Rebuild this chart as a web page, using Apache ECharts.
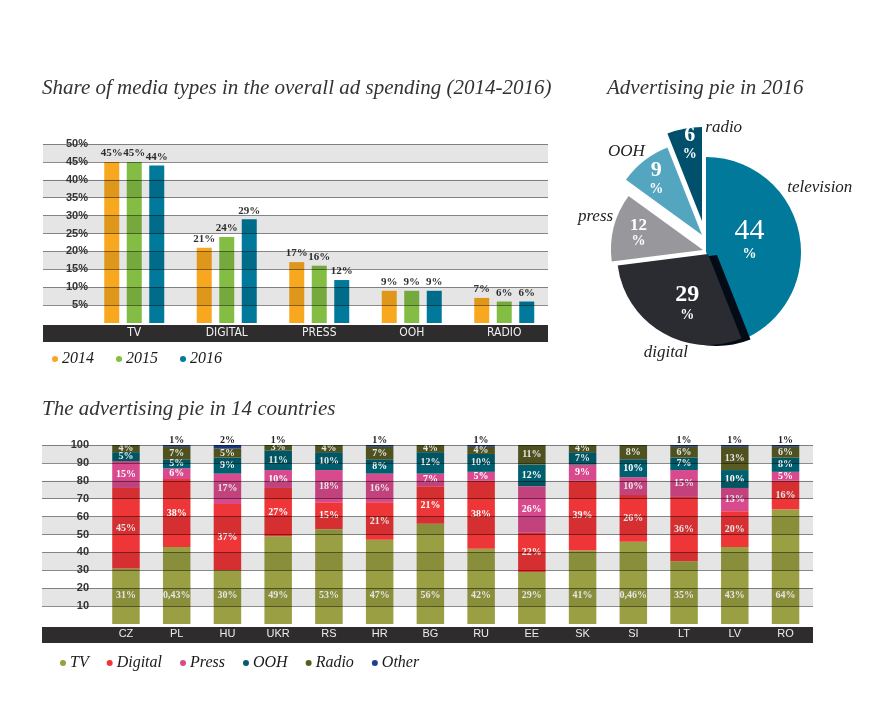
<!DOCTYPE html>
<html><head><meta charset="utf-8">
<script src="https://cdn.jsdelivr.net/npm/echarts@6/dist/echarts.min.js"></script>
<style>html,body{margin:0;padding:0;background:#fff;}#c{width:875px;height:720px;}</style>
</head><body><div id="c"></div>
<script>
// ---------- data ----------
const mediaCats = ['TV', 'DIGITAL', 'PRESS', 'OOH', 'RADIO'];
const yearNames = ['2014', '2015', '2016'];
const share2014 = [45, 21, 17, 9, 7];
const share2015 = [45, 24, 16, 9, 6];
const share2016 = [44, 29, 12, 9, 6];

const pieNames = ['television', 'digital', 'press', 'OOH', 'radio'];
const pieValues = [44, 29, 12, 9, 6];

const countries = ['CZ', 'PL', 'HU', 'UKR', 'RS', 'HR', 'BG', 'RU', 'EE', 'SK', 'SI', 'LT', 'LV', 'RO'];
const countrySeriesNames = ['TV', 'Digital', 'Press', 'OOH', 'Radio', 'Other'];
const tvShare      = [31, 43, 30, 49, 53, 47, 56, 42, 29, 41, 46, 35, 43, 64];
const digitalShare = [45, 38, 37, 27, 15, 21, 21, 38, 22, 39, 26, 36, 20, 16];
const pressShare   = [15, 6, 17, 10, 18, 16, 7, 5, 26, 9, 10, 15, 13, 5];
const oohShare     = [5, 5, 9, 11, 10, 8, 12, 10, 12, 7, 10, 7, 10, 8];
const radioShare   = [4, 7, 5, 3, 4, 7, 4, 4, 11, 4, 8, 6, 13, 6];
const otherShare   = [0, 1, 2, 1, 0, 1, 0, 1, 0, 0, 0, 1, 1, 1];
const tvLabels = ['31%', '0,43%', '30%', '49%', '53%', '47%', '56%', '42%', '29%', '41%', '0,46%', '35%', '43%', '64%'];

// ---------- styles ----------
const SERIF = "'Liberation Serif', 'Times New Roman', serif";
const SANS = "'Liberation Sans', Arial, sans-serif";
const NARROW = "'DejaVu Sans Condensed', 'Liberation Sans Narrow', 'Liberation Sans', sans-serif";
const yearColors = ['#f8a81f', '#84bd44', '#00799a'];
const countryColors = ['#999f42', '#ee3537', '#d84a8d', '#005f6f', '#585c22', '#213f8e'];
const pieColors = ['#00799a', '#2a2c32', '#98989c', '#54a6c0', '#004f6b'];
const pieGeom = [
  { c: [706, 252], r: 95 },
  { c: [708, 254], r: 91 },
  { c: [703, 250], r: 92 },
  { c: [702, 235], r: 94 },
  { c: [702, 221], r: 94 }
];
const pieNumSize = [30, 24, 17, 22, 22];
const pieNumWeight = ['normal', 'bold', 'bold', 'bold', 'bold'];
const pieLabelShift = [[-6, -4], [4, 7], [-17, -5], [-15, -18], [-3, -29]];
const pieNameShift = [[-17, -46, 'left'], [33, 14, 'right'], [4, -11, 'right'], [0, -21, 'right'], [18, -26, 'left']];

const chart = echarts.init(document.getElementById('c'));

const titleStyle = { fontFamily: SERIF, fontStyle: 'italic', fontWeight: 'normal', fontSize: 21, color: '#333' };
const legendText = { fontFamily: SERIF, fontStyle: 'italic', fontWeight: 'normal', fontSize: 16, color: '#1a1a1a', padding: [0, 0, 0, -1] };

function bandAxisY(gridIndex, max, interval, margin) {
  return {
    gridIndex, type: 'value', min: 0, max, interval, z: 5,
    axisLine: { show: false }, axisTick: { show: false },
    axisLabel: { inside: true, margin, align: 'right', formatter: v => (v ? v + (max === 50 ? '%' : '') : ''),
      fontFamily: SANS, fontWeight: 'bold', fontSize: 11, color: '#333' },
    splitLine: { show: true, showMinLine: false, lineStyle: { color: 'rgba(0,0,0,0.45)', width: 1 } },
    splitArea: { show: true, areaStyle: { color: ['rgba(0,0,0,0)', 'rgba(0,0,0,0.1)'] } }
  };
}
function bandAxisX(gridIndex, width) {
  return {
    gridIndex, type: 'value', min: 0, max: 1, z: 6, offset: 10.5,
    axisLine: { show: true, onZero: false, lineStyle: { color: '#2e2c2d', width, cap: 'butt' } },
    axisTick: { show: false }, axisLabel: { show: false }, splitLine: { show: false }
  };
}

const topSeries = [share2014, share2015, share2016].map((d, i) => ({
  name: yearNames[i], type: 'bar', xAxisIndex: 1, yAxisIndex: 1, data: d,
  barWidth: 15, barGap: '50%', z: 2,
  itemStyle: { color: yearColors[i] },
  label: { show: true, position: 'top', distance: 3, formatter: '{c}%', fontFamily: SERIF, fontWeight: 'bold', fontSize: 11, color: '#333', textBorderWidth: 0 }
}));

const countryData = [tvShare, digitalShare, pressShare, oohShare, radioShare, otherShare];
const segLabel = { show: true, fontFamily: SERIF, fontWeight: 'bold', fontSize: 10, color: '#fff', textBorderWidth: 0 };
const bottomSeries = countryData.map((d, i) => {
  let label;
  if (i === 0) label = Object.assign({}, segLabel, { position: 'insideBottom', distance: 24, formatter: p => tvLabels[p.dataIndex] });
  else if (i === 5) label = Object.assign({}, segLabel, { position: 'top', distance: 0, color: '#222', formatter: p => (p.value > 0 ? p.value + '%' : '') });
  else label = Object.assign({}, segLabel, { position: 'inside', formatter: p => (p.value > 0 ? p.value + '%' : '') });
  return {
    name: countrySeriesNames[i], type: 'bar', stack: 'countries', xAxisIndex: 3, yAxisIndex: 3,
    data: d, barWidth: 27.5, z: 2, itemStyle: { color: countryColors[i] }, label
  };
});

const pieSlices = pieNames.map((nm, i) => ({
  type: 'pie', name: 'slice-' + nm, center: pieGeom[i].c, radius: pieGeom[i].r,
  startAngle: 90, clockwise: true, silent: true, avoidLabelOverlap: false, z: 2 + i,
  data: pieNames.map((n, j) => ({
    name: n, value: pieValues[j],
    itemStyle: j === i
      ? Object.assign({ color: pieColors[i], borderWidth: 0 }, i === 1 ? { shadowColor: '#030b16', shadowOffsetX: 9, shadowOffsetY: 1, shadowBlur: 0 } : {})
      : { color: 'rgba(0,0,0,0)', borderWidth: 0 },
    label: { show: j === i }
  })),
  label: {
    position: 'inside', formatter: p => '{n|' + p.value + '}\n{p|%}',
    rich: {
      n: { fontFamily: SERIF, fontSize: pieNumSize[i], fontWeight: pieNumWeight[i], color: '#fff', lineHeight: pieNumSize[i] + 1, align: 'center' },
      p: { fontFamily: SERIF, fontSize: 14, fontWeight: 'bold', color: '#fff', lineHeight: 15, align: 'center' }
    },
    textBorderWidth: 0
  },
  labelLine: { show: false },
  labelLayout: { dx: pieLabelShift[i][0], dy: pieLabelShift[i][1] },
  emphasis: { disabled: true }
}));

const pieNamesSeries = {
  type: 'pie', name: 'pie-names', center: pieGeom[0].c, radius: pieGeom[0].r,
  startAngle: 90, clockwise: true, silent: true, avoidLabelOverlap: false, z: 8,
  data: pieNames.map((n, j) => ({ name: n, value: pieValues[j], itemStyle: { color: 'rgba(0,0,0,0)', borderWidth: 0 } })),
  label: { show: true, position: 'outside', formatter: '{b}', distanceToLabelLine: 0,
    fontFamily: SERIF, fontStyle: 'italic', fontSize: 17, color: '#222', textBorderWidth: 0 },
  labelLine: { show: false, length: 5, length2: 0 },
  labelLayout: p => ({ dx: pieNameShift[p.dataIndex][0], dy: pieNameShift[p.dataIndex][1], align: pieNameShift[p.dataIndex][2] }),
  emphasis: { disabled: true }
};

chart.setOption({
  animation: false,
  backgroundColor: '#fff',
  title: [
    { text: 'Share of media types in the overall ad spending (2014-2016)', left: 42, top: 78, padding: 0, textStyle: titleStyle },
    { text: 'Advertising pie in 2016', left: 607, top: 78, padding: 0, textStyle: titleStyle },
    { text: 'The advertising pie in 14 countries', left: 42, top: 399, padding: 0, textStyle: titleStyle }
  ],
  legend: [
    { data: yearNames, left: 52, top: 351, padding: 0, icon: 'circle', itemWidth: 6, itemHeight: 6, itemGap: 22, selectedMode: false, textStyle: legendText },
    { data: countrySeriesNames, left: 60, top: 655, padding: 0, icon: 'circle', itemWidth: 6, itemHeight: 6, itemGap: 18, selectedMode: false, textStyle: legendText }
  ],
  grid: [
    { left: 43, right: 327, top: 144, bottom: 397, outerBoundsMode: 'none' },
    { left: 88, right: 324.5, top: 144, bottom: 397, outerBoundsMode: 'none' },
    { left: 42, right: 62, top: 445, bottom: 96, outerBoundsMode: 'none' },
    { left: 100.6, right: 64.1, top: 445, bottom: 96, outerBoundsMode: 'none' }
  ],
  xAxis: [
    bandAxisX(0, 17),
    { gridIndex: 1, type: 'category', data: mediaCats, z: 8, axisLine: { show: false }, axisTick: { show: false },
      axisLabel: { color: '#f0f0f0', fontFamily: NARROW, fontSize: 12, margin: 4 }, splitLine: { show: false } },
    bandAxisX(2, 16),
    { gridIndex: 3, type: 'category', data: countries, z: 8, axisLine: { show: false }, axisTick: { show: false },
      axisLabel: { color: '#eeeeee', fontFamily: SANS, fontSize: 11, margin: 4, interval: 0 }, splitLine: { show: false } }
  ],
  yAxis: [
    bandAxisY(0, 50, 5, 45),
    { gridIndex: 1, type: 'value', min: 0, max: 50, show: false, splitLine: { show: false } },
    bandAxisY(2, 100, 10, 47),
    { gridIndex: 3, type: 'value', min: 0, max: 100, show: false, splitLine: { show: false } }
  ],
  series: [].concat(topSeries, bottomSeries, pieSlices, [pieNamesSeries])
});
</script>
</body></html>
